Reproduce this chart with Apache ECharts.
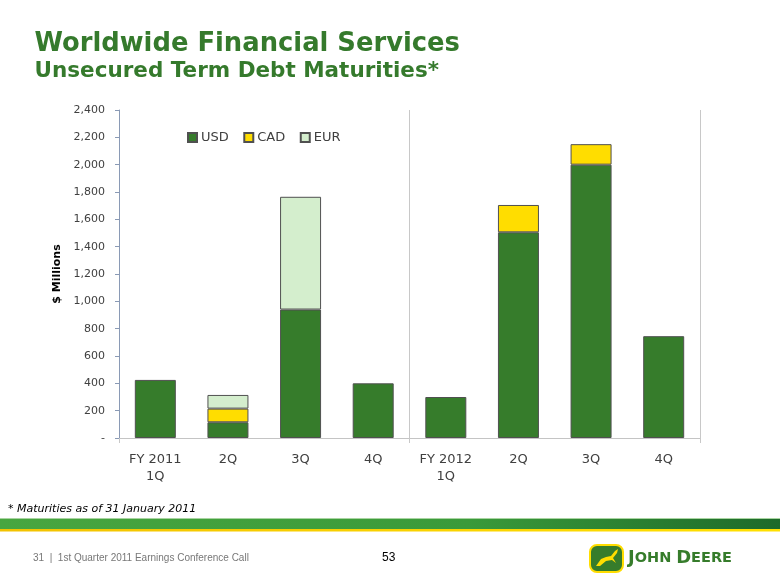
<!DOCTYPE html>
<html><head><meta charset="utf-8">
<script src="https://cdn.jsdelivr.net/npm/echarts@6/dist/echarts.min.js"></script>
<style>html,body{margin:0;padding:0;background:#fff}#c{width:780px;height:585px}</style>
</head><body><div id="c"></div>
<script>
const categories = ['FY 2011\n1Q', '2Q', '3Q', '4Q', 'FY 2012\n1Q', '2Q', '3Q', '4Q'];
const usd = [425, 115, 940, 400, 300, 1505, 2000, 745];
const cad = [null, 100, null, null, null, 200, 150, null];
const eur = [null, 100, 825, null, null, null, null, null];
const seriesNames = ['USD', 'CAD', 'EUR'];
const yMin = 0, yMax = 2400, yStep = 200;

const FONT = '"DejaVu Sans", Verdana, sans-serif';
const GREEN = '#357a2c';
const colors = ['#367c2b', '#ffdd00', '#d4eecd'];
const border = { borderColor: '#505050', borderWidth: 1 };

const chart = echarts.init(document.getElementById('c'), null, { renderer: 'canvas' });
chart.setOption({
  animation: false,
  backgroundColor: '#ffffff',
  title: [
    { text: 'Worldwide Financial Services', left: 34.5, top: 31, padding: 0,
      textStyle: { fontFamily: FONT, fontSize: 25.8, fontWeight: 'bold', color: GREEN } },
    { text: 'Unsecured Term Debt Maturities*', left: 34.5, top: 60, padding: 0,
      textStyle: { fontFamily: FONT, fontSize: 21.5, fontWeight: 'bold', color: GREEN } }
  ],
  legend: {
    data: seriesNames, left: 187, top: 131, padding: 0, icon: 'rect', itemWidth: 9, itemHeight: 9, itemGap: 14.5,
    textStyle: { fontFamily: FONT, fontSize: 13, color: '#404040', padding: [0, 0, 0, -1] }
  },
  grid: { left: 119, right: 80, top: 110, bottom: 147, containLabel: false },
  xAxis: [
    { type: 'category', data: categories,
      axisLine: { show: true, lineStyle: { color: '#c4c4c4', width: 1 } },
      axisTick: { show: false },
      axisLabel: { fontFamily: FONT, fontSize: 13, color: '#404040', lineHeight: 17, margin: 13 } },
    { type: 'value', min: 0, max: 8, interval: 4, position: 'bottom',
      axisLine: { show: false }, axisLabel: { show: false },
      axisTick: { show: true, length: 5, lineStyle: { color: '#c8c8c8' } },
      splitLine: { show: true, lineStyle: { color: '#c8c8c8', width: 1 } } }
  ],
  yAxis: {
    type: 'value', min: yMin, max: yMax, interval: yStep,
    name: '$ Millions', nameLocation: 'middle', nameGap: 53, nameRotate: 90,
    nameTextStyle: { fontFamily: FONT, fontSize: 11, fontWeight: 'bold', color: '#000' },
    axisLine: { show: true, lineStyle: { color: '#8a9ab5', width: 1 } },
    axisTick: { show: true, length: 4, lineStyle: { color: '#8a9ab5' } },
    splitLine: { show: false },
    axisLabel: { fontFamily: FONT, fontSize: 11, color: '#404040', margin: 14,
      formatter: v => v === 0 ? '-' : v.toLocaleString('en-US') }
  },
  series: [
    { name: seriesNames[0], type: 'bar', stack: 'a', data: usd, barWidth: 41, itemStyle: Object.assign({ color: colors[0] }, border) },
    { name: seriesNames[1], type: 'bar', stack: 'a', data: cad, barWidth: 41, itemStyle: Object.assign({ color: colors[1] }, border) },
    { name: seriesNames[2], type: 'bar', stack: 'a', data: eur, barWidth: 41, itemStyle: Object.assign({ color: colors[2] }, border) }
  ],
  graphic: [
    { type: 'text', left: 8, top: 504, style: { text: '* Maturities as of 31 January 2011', font: 'italic 11px ' + FONT, fill: '#000' } },
    { type: 'rect', shape: { x: 0, y: 518, width: 780, height: 11 },
      style: { fill: new echarts.graphic.LinearGradient(0, 0, 1, 0, [
        { offset: 0, color: '#48a640' }, { offset: 0.6, color: '#3a9a3a' }, { offset: 1, color: '#1d6a2a' }]) } },
    { type: 'rect', shape: { x: 0, y: 518, width: 780, height: 1 }, style: { fill: '#a8d4a0' } },
    { type: 'rect', shape: { x: 0, y: 529, width: 780, height: 2.5 },
      style: { fill: new echarts.graphic.LinearGradient(0, 0, 1, 0, [
        { offset: 0, color: '#f2c200' }, { offset: 1, color: '#ffe000' }]) } },
    { type: 'text', left: 33, top: 553, style: { text: '31  |  1st Quarter 2011 Earnings Conference Call', font: '10px "Liberation Sans Narrow", "Liberation Sans", sans-serif', fill: '#777' } },
    { type: 'text', left: 382, top: 552, style: { text: '53', font: '12px "Liberation Sans", sans-serif', fill: '#000' } },
    { type: 'rect', shape: { x: 590, y: 545, width: 33, height: 27, r: 7 },
      style: { fill: '#367c2b', stroke: '#ffdd00', lineWidth: 2 } },
    { type: 'polygon', shape: { points: [[596, 566], [601, 559], [606, 557], [611, 556], [615, 551], [618, 549], [617, 553], [613, 558], [616, 563], [612, 560], [606, 561], [600, 566]] },
      style: { fill: '#ffdd00' } },
    { type: 'text', x: 628, y: 549, style: {
      text: '{a|J}{b|OHN} {a|D}{b|EERE}',
      font: 'bold 14px "DejaVu Sans"', fill: '#367c2b',
      rich: { a: { fontFamily: 'DejaVu Sans', fontSize: 18, fontWeight: 'bold', fill: '#367c2b' },
              b: { fontFamily: 'DejaVu Sans', fontSize: 14.5, fontWeight: 'bold', fill: '#367c2b' } } } }
  ]
});
</script></body></html>
